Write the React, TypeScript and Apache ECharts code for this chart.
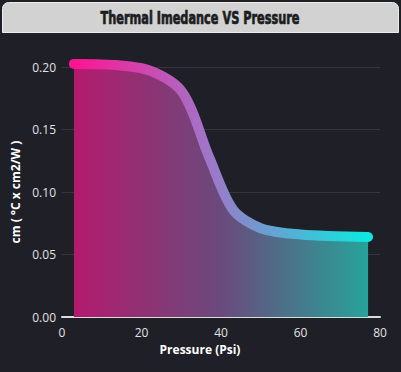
import React, { useEffect, useRef } from "react";
import * as echarts from "echarts";

const pressure = [3, 20, 30, 37, 43, 50, 60, 77];
const impedance = [0.2025, 0.199, 0.181, 0.128, 0.086, 0.071, 0.066, 0.064];
const xTicks = { min: 0, max: 80, interval: 20 };
const yTicks = { min: 0, max: 0.2, interval: 0.05 };
const titleText = "Thermal Imedance VS Pressure";
const xName = "Pressure (Psi)";
const yName = "cm ( °C x cm2/W )";

export default function App() {
  const ref = useRef<HTMLDivElement>(null);
  useEffect(() => {
    document.body.style.margin = "0";
    document.body.style.background = "#1e1f27";
    const chart = echarts.init(ref.current!, null, { renderer: "svg" });
    const font = "'Open Sans', 'Noto Sans', sans-serif";
    chart.setOption({
      animation: false,
      backgroundColor: "#1e1f27",
      graphic: [
        {
          type: "rect",
          shape: { x: 2.5, y: 2.5, width: 396, height: 30, r: [6, 6, 0, 0] },
          style: { fill: "#d2d2d2", stroke: "#ececec", lineWidth: 1 },
        },
        {
          type: "text",
          x: 200,
          y: 18,
          scaleX: 0.74,
          style: {
            text: titleText,
            fill: "#1c1d22",
            stroke: "#1c1d22",
            lineWidth: 0.7,
            font: "bold 17px 'DejaVu Sans Condensed', 'DejaVu Sans', sans-serif",
            align: "center",
            verticalAlign: "middle",
          },
        },
        {
          type: "text",
          x: 200,
          y: 349,
          style: {
            text: xName,
            fill: "#ffffff",
            font: "bold 12px " + font,
            align: "center",
            verticalAlign: "middle",
          },
        },
      ],
      grid: { left: 62, right: 21, top: 67, bottom: 55, containLabel: false },
      xAxis: {
        type: "value",
        min: xTicks.min,
        max: xTicks.max,
        interval: xTicks.interval,
        axisLine: { show: true, lineStyle: { color: "#dcdcdc", width: 2 } },
        axisTick: { show: false },
        splitLine: { show: false },
        axisLabel: { color: "#e2e2e2", fontSize: 12, fontFamily: font, margin: 9 },
      },
      yAxis: {
        type: "value",
        min: yTicks.min,
        max: yTicks.max,
        interval: yTicks.interval,
        name: yName,
        nameLocation: "middle",
        nameGap: 40,
        nameRotate: 90,
        nameTextStyle: { color: "#ffffff", fontSize: 12, fontWeight: "bold", fontFamily: font },
        axisLine: { show: false },
        axisTick: { show: false },
        splitLine: { show: true, lineStyle: { color: "#35363d", width: 1 } },
        axisLabel: {
          color: "#e2e2e2",
          fontSize: 12,
          fontFamily: font,
          margin: 6,
          formatter: (v: number) => v.toFixed(2),
        },
      },
      series: [
        {
          type: "line",
          data: pressure.map((p, i) => [p, impedance[i]]),
          smooth: 0.3,
          showSymbol: false,
          clip: false,
          lineStyle: {
            width: 10,
            cap: "round",
            join: "round",
            color: new echarts.graphic.LinearGradient(0, 0, 1, 0, [
              { offset: 0, color: "#ff1493" },
              { offset: 0.45, color: "#a274c8" },
              { offset: 1, color: "#0ce8e0" },
            ]),
          },
          areaStyle: {
            opacity: 1,
            color: new echarts.graphic.LinearGradient(0, 0, 1, 0, [
              { offset: 0, color: "#b31b6d" },
              { offset: 0.5, color: "#6a4a7c" },
              { offset: 1, color: "#26a39a" },
            ]),
          },
        },
      ],
    });
    return () => chart.dispose();
  }, []);
  return (
    <div
      ref={ref}
      style={{ position: "absolute", left: 0, top: 0, width: 401, height: 372 }}
    />
  );
}
